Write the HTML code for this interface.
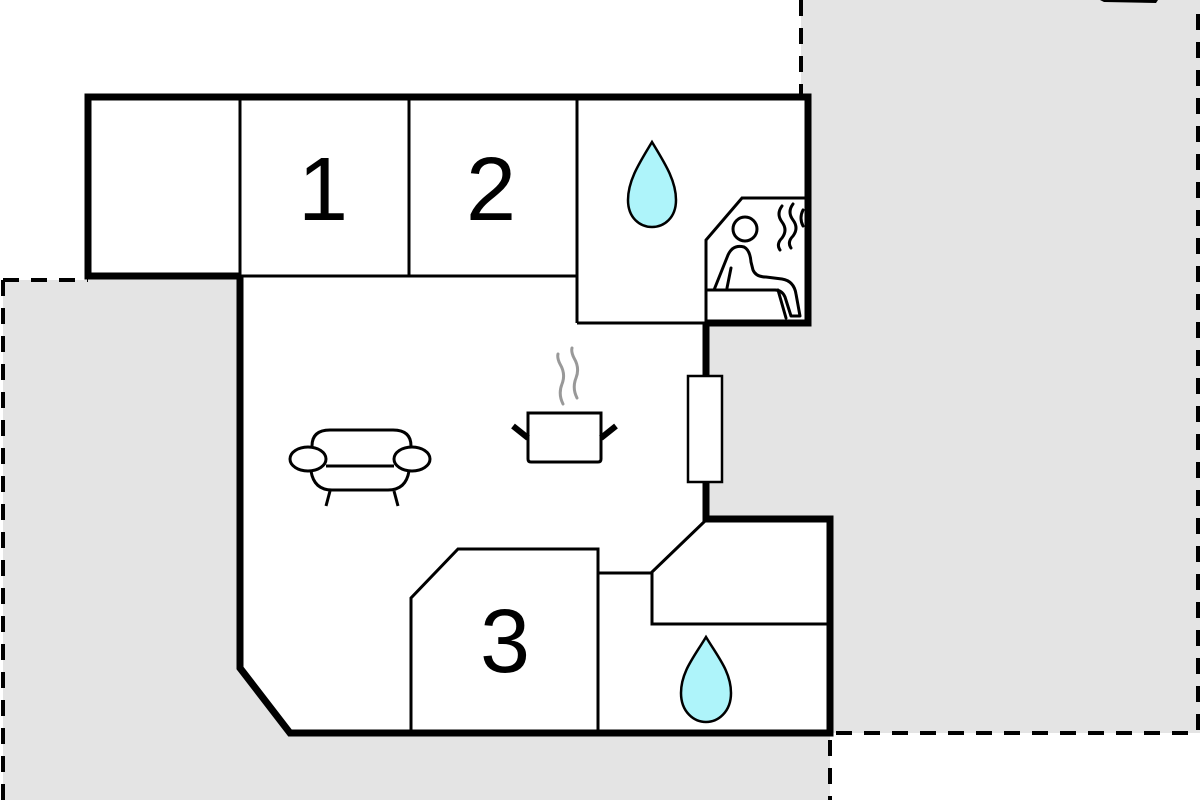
<!DOCTYPE html>
<html><head><meta charset="utf-8"><style>html,body{margin:0;padding:0;background:#fff}svg{display:block}</style></head>
<body>
<svg width="1200" height="800" viewBox="0 0 1200 800" xmlns="http://www.w3.org/2000/svg">
<!-- gray surroundings: everything except top-left white and bottom-right white -->
<path d="M3 280 H88 V97 H801 V0 H1200 V733 H830 V800 H3 Z" fill="#e4e4e4"/>
<!-- dashed borders -->
<g stroke="#000" stroke-width="4" fill="none" stroke-dasharray="16,12">
<line x1="3" y1="280" x2="3" y2="800"/>
<line x1="3" y1="280" x2="88" y2="280"/>
<line x1="801" y1="0" x2="801" y2="95"/>
<line x1="1198" y1="14" x2="1198" y2="733"/>
<line x1="836" y1="733" x2="1200" y2="733"/>
<line x1="830" y1="740" x2="830" y2="800"/>
</g>
<path d="M1100 0 L1158 0 L1156 3 L1104 2 Z" fill="#000"/>
<!-- building interior white -->
<path d="M88 97 H808 V323 H706 V519 H830 V733 H290 L240 668 V276 H88 Z" fill="#fff"/>
<!-- thin walls -->
<g stroke="#000" stroke-width="3" fill="none">
<line x1="240" y1="97" x2="240" y2="276"/>
<line x1="409" y1="97" x2="409" y2="276"/>
<line x1="577" y1="97" x2="577" y2="323"/>
<line x1="240" y1="276" x2="577" y2="276"/>
<line x1="577" y1="323" x2="706" y2="323"/>
<path d="M706 323 V240 L742 198 H808"/>
<path d="M411 733 V598 L458 549 H598 V733"/>
<line x1="598" y1="573" x2="652" y2="573"/>
<path d="M705 521 L652 572 V624 H830"/>
</g>
<!-- thick walls -->
<g stroke="#000" stroke-width="7" fill="none" stroke-linejoin="miter">
<path d="M240 276 H88 V97 H808 V323 H706"/>
<path d="M706 323 V519 H830 V733 H290 L240 668 V276"/>
</g>
<!-- window -->
<rect x="688" y="376" width="34" height="106" fill="#fff" stroke="#000" stroke-width="2.5"/>
<!-- numbers -->
<g font-family="Liberation Sans, sans-serif" font-size="90" text-anchor="middle" fill="#000">
<text x="323" y="220">1</text>
<text x="491" y="220">2</text>
<text x="505" y="672">3</text>
</g>
<!-- drops -->
<path d="M652 142 C640 162 628 180 628 200 C628 218 640 227 652 227 C664 227 676 218 676 200 C676 180 664 162 652 142 Z" fill="#aef4fa" stroke="#000" stroke-width="2.5"/>
<path d="M706 637 C694 657 681 672 681 693 C681 712 694 722 706 722 C718 722 731 712 731 693 C731 672 718 657 706 637 Z" fill="#aef4fa" stroke="#000" stroke-width="2.5"/>
<!-- sauna person -->
<g stroke="#000" stroke-width="3" fill="none" stroke-linecap="round" stroke-linejoin="round">
<circle cx="745" cy="229" r="12"/>
<path d="M714 290 L728 255 Q733 244 744 247 Q750 250 751 262 L753 270 Q756 277 766 277 L782 279 Q794 281 796 294 L800 316 H791 L785 297 Q782 290 775 290 H708"/>
<path d="M731 268 L727 288"/>
<path d="M778 290 L786 318"/>
<path d="M782 206 q-6 8 0 16 q6 8 0 16 q-6 6 -2 12"/>
<path d="M793 204 q-6 8 0 16 q6 8 0 16 q-6 6 -2 12"/>
<path d="M803 210 q-4 8 0 16"/>
</g>
<!-- sofa -->
<g stroke="#000" stroke-width="3" fill="none">
<path d="M312 452 V446 Q312 430 330 430 H393 Q411 430 411 446 V452"/>
<ellipse cx="308" cy="459" rx="18" ry="12" fill="#fff"/>
<ellipse cx="412" cy="459" rx="18" ry="12" fill="#fff"/>
<line x1="326" y1="466" x2="394" y2="466"/>
<path d="M311 471 Q314 490 332 490 H388 Q406 490 409 471"/>
<line x1="330" y1="491" x2="326" y2="506"/>
<line x1="394" y1="491" x2="398" y2="506"/>
</g>
<!-- pot -->
<g fill="none">
<path d="M528 413 H601 V459 Q601 462 598 462 H531 Q528 462 528 459 Z" stroke="#000" stroke-width="3"/>
<line x1="513" y1="426" x2="528" y2="438" stroke="#000" stroke-width="6"/>
<line x1="616" y1="426" x2="601" y2="438" stroke="#000" stroke-width="6"/>
<path d="M563 404 q-5 -10 -1 -20 q4 -10 -2 -20 q-3 -6 -2 -10" stroke="#999" stroke-width="3" stroke-linecap="round"/>
<path d="M577 398 q-5 -10 -1 -20 q4 -10 -2 -20 q-3 -6 -2 -10" stroke="#999" stroke-width="3" stroke-linecap="round"/>
</g>
</svg>
</body></html>
